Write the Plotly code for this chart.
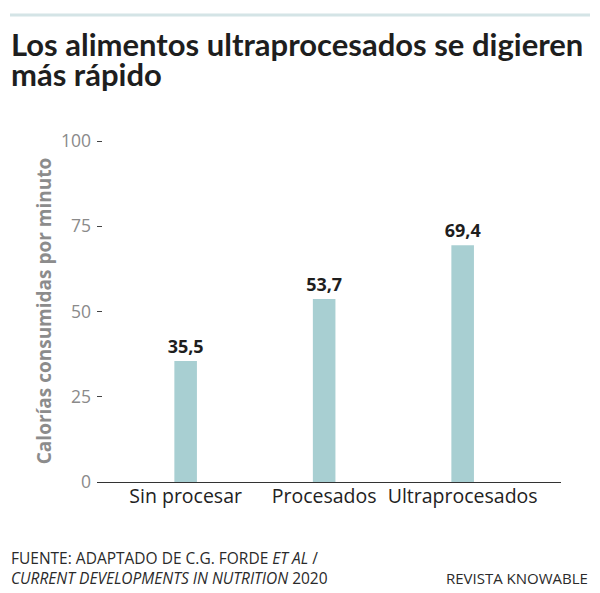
import plotly.graph_objects as go

# Datos
CATEGORIAS = ['Sin procesar', 'Procesados', 'Ultraprocesados']
CALORIAS = [35.5, 53.7, 69.4]
Y_TICKS = [0, 25, 50, 75, 100]

TITULO = ['Los alimentos ultraprocesados se digieren', 'más rápido']
EJE_Y = 'Calorías consumidas por minuto'
FUENTE = ['FUENTE: ADAPTADO DE C.G. FORDE <i>ET AL</i> /',
          '<i>CURRENT DEVELOPMENTS IN NUTRITION</i> 2020']
CREDITO = 'REVISTA KNOWABLE'

W, H = 600, 593
M_LEFT, M_RIGHT, M_TOP, M_BOTTOM = 97, 39, 140, 111
FONT = 'Open Sans'
FONT_TITULO = 'Lato'
BAR_COLOR = '#a8cfd2'


def py(pix):
    """pixel vertical -> coordenada paper"""
    return (H - M_BOTTOM - pix) / (H - M_TOP - M_BOTTOM)


def px(pix):
    """pixel horizontal -> coordenada paper"""
    return (pix - M_LEFT) / (W - M_LEFT - M_RIGHT)


fig = go.Figure()
fig.add_trace(go.Bar(
    x=CATEGORIAS,
    y=CALORIAS,
    width=0.163,
    marker=dict(color=BAR_COLOR, line=dict(width=0)),
    texttemplate='%{y:.1f}',
    textposition='outside',
    constraintext='none',
    textfont=dict(family=FONT, size=18, color='#1e1e1e', weight='bold'),
    cliponaxis=False,
    hoverinfo='skip',
))

fig.update_layout(
    width=W, height=H,
    margin=dict(l=M_LEFT, r=M_RIGHT, t=M_TOP, b=M_BOTTOM),
    plot_bgcolor='white', paper_bgcolor='white',
    separators=',.',
    showlegend=False,
    font=dict(family=FONT),
    xaxis=dict(
        range=[-0.64, 2.71],
        showgrid=False, zeroline=False,
        showline=False,
        ticks='',
        tickfont=dict(family=FONT, size=19.5, color='#222222'),
        fixedrange=True,
    ),
    yaxis=dict(
        range=[0, 100.3],
        tickvals=Y_TICKS,
        showgrid=False, zeroline=True, zerolinecolor='#333333', zerolinewidth=1.3,
        showline=False,
        ticks='inside', ticklen=5, tickwidth=1.3, tickcolor='#444444',
        ticklabelstandoff=5,
        tickfont=dict(family=FONT, size=17.5, color='#8a8a8a'),
        title=dict(text=EJE_Y, font=dict(family=FONT, size=19, color='#8c8c8c', weight='bold'),
                   standoff=4),
        fixedrange=True,
    ),
)

# línea superior
fig.add_shape(type='line', xref='paper', yref='paper',
              x0=px(10), x1=px(590), y0=py(15), y1=py(15),
              line=dict(color='#d4e4e6', width=3))

# título (dos líneas, interlineado apretado)
for texto, ymid in zip(TITULO, [44, 73.5]):
    fig.add_annotation(text=texto, xref='paper', yref='paper',
                       x=px(9), y=py(ymid), xanchor='left', yanchor='middle',
                       align='left', showarrow=False,
                       font=dict(family=FONT_TITULO, size=31, color='#1e1e1e', weight='bold'))

# pie
fig.add_annotation(text='<br>'.join(FUENTE), xref='paper', yref='paper',
                   x=px(9), y=py(568), xanchor='left', yanchor='middle',
                   align='left', showarrow=False,
                   font=dict(family=FONT, size=15.5, color='#2a2a2a'))
fig.add_annotation(text=CREDITO, xref='paper', yref='paper',
                   x=px(590), y=py(577.5), xanchor='right', yanchor='middle',
                   align='right', showarrow=False,
                   font=dict(family=FONT, size=15, color='#2a2a2a'))

fig.write_html('out.html', config={'displayModeBar': False},
               post_script="document.body.style.margin='0';")
